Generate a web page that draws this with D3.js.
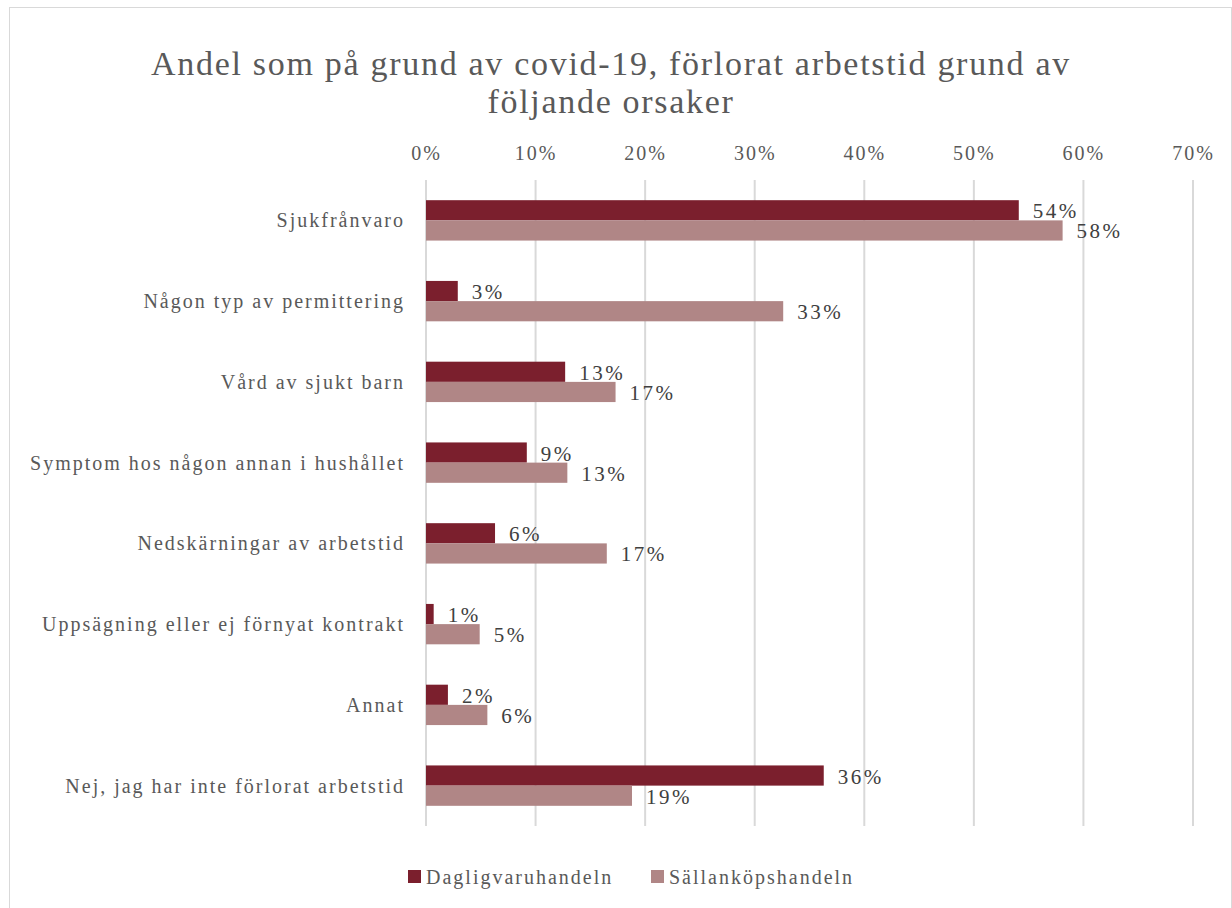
<!DOCTYPE html>
<html><head><meta charset="utf-8">
<script src="https://cdn.jsdelivr.net/npm/d3@7"></script>
<style>body{margin:0;background:#fff}</style>
</head><body>
<script>
const categories = ["Sjukfrånvaro","Någon typ av permittering","Vård av sjukt barn","Symptom hos någon annan i hushållet","Nedskärningar av arbetstid","Uppsägning eller ej förnyat kontrakt","Annat","Nej, jag har inte förlorat arbetstid"];
const seriesNames = ["Dagligvaruhandeln","Sällanköpshandeln"];
const dagligvaru = [54.1, 2.9, 12.7, 9.2, 6.3, 0.7, 2.0, 36.3];
const sallankop = [58.1, 32.6, 17.3, 12.9, 16.5, 4.9, 5.6, 18.8];
const ticks = [0,10,20,30,40,50,60,70];
const colors = ["#7b1f2d","#b08686"];
const title = ["Andel som på grund av covid-19, förlorat arbetstid grund av","följande orsaker"];

const W=1232,H=908;
const font = "'Liberation Serif', serif";
const svg = d3.select("body").append("svg").attr("width",W).attr("height",H);
svg.append("rect").attr("x",9.5).attr("y",7.5).attr("width",W-10).attr("height",H-6).attr("fill","#fff").attr("stroke","#d9d9d9");

const x = d3.scaleLinear().domain([0,70]).range([426,1193]);
const y = d3.scaleBand().domain(categories).range([180,826]).paddingInner(0.5).paddingOuter(0.25);
const ys = d3.scaleBand().domain(seriesNames).range([0,y.bandwidth()]);

svg.append("g").selectAll("text").data(title).join("text")
 .attr("x",611).attr("y",(d,i)=>75+i*38).attr("text-anchor","middle")
 .attr("font-family",font).attr("font-size",34).attr("letter-spacing",1.7).attr("fill","#595959").text(d=>d);

const axis = d3.axisTop(x).tickValues(ticks).tickFormat(d=>d+"%").tickSize(0).tickPadding(0);
const ag = svg.append("g").attr("transform","translate(0,160)").call(axis);
ag.select(".domain").remove();
ag.selectAll("text").attr("font-family",font).attr("font-size",20).attr("letter-spacing",2).attr("fill","#595959");

svg.append("g").selectAll("line").data(ticks).join("line")
 .attr("x1",d=>x(d)).attr("x2",d=>x(d)).attr("y1",180).attr("y2",826)
 .attr("stroke","#d9d9d9").attr("stroke-width",2);

const data = [dagligvaru, sallankop];
data.forEach((vals,s)=>{
  const g = svg.append("g");
  g.selectAll("rect").data(vals).join("rect")
   .attr("x",x(0)).attr("y",(d,i)=>y(categories[i])+ys(seriesNames[s]))
   .attr("width",d=>x(d)-x(0)).attr("height",ys.bandwidth())
   .attr("fill",colors[s]);
  g.selectAll("text").data(vals).join("text")
   .attr("x",d=>x(d)+14).attr("y",(d,i)=>y(categories[i])+ys(seriesNames[s])+ys.bandwidth()/2+8)
   .attr("font-family",font).attr("font-size",21).attr("letter-spacing",2.5).attr("fill","#404040")
   .text(d=>Math.round(d)+"%");
});

svg.append("g").selectAll("text").data(categories).join("text")
 .attr("x",405).attr("y",d=>y(d)+y.bandwidth()/2+7).attr("text-anchor","end")
 .attr("font-family",font).attr("font-size",20).attr("letter-spacing",2).attr("fill","#595959").text(d=>d);

const leg = svg.append("g");
const lx=[408,651];
seriesNames.forEach((n,i)=>{
  leg.append("rect").attr("x",lx[i]).attr("y",870).attr("width",13).attr("height",13).attr("fill",colors[i]);
  leg.append("text").attr("x",lx[i]+18).attr("y",884).attr("font-family",font).attr("font-size",20).attr("letter-spacing",2).attr("fill","#595959").text(n);
});
</script>
</body></html>
